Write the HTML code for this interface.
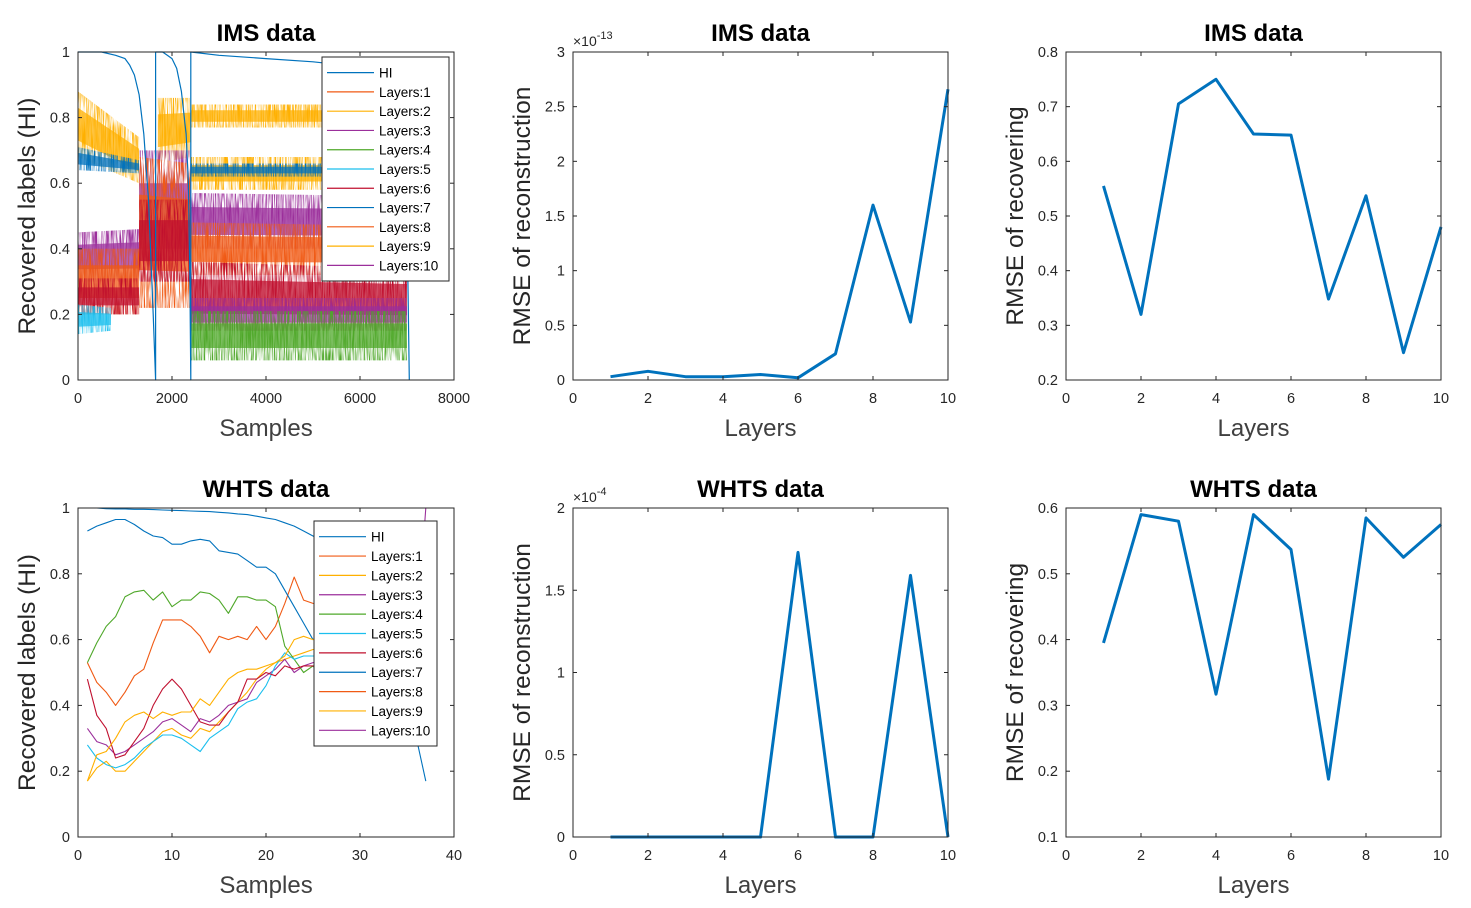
<!DOCTYPE html>
<html><head><meta charset="utf-8"><style>
body{margin:0;background:#fff;}
svg{display:block;font-family:"Liberation Sans",sans-serif;}
</style></head><body>
<svg id="svg" width="1471" height="908" viewBox="0 0 1471 908" xmlns="http://www.w3.org/2000/svg">
<defs>
<filter id="grain" x="0" y="0" width="1" height="1">
<feTurbulence type="fractalNoise" baseFrequency="0.9 0.04" numOctaves="2" seed="3" result="n"/>
<feColorMatrix in="n" type="matrix" values="0 0 0 0 0  0 0 0 0 0  0 0 0 0 0  0 0 0 3 -1.1" result="a"/>
<feComposite in="SourceGraphic" in2="a" operator="in"/>
</filter>
</defs>
</svg>
<script>
// ---- data ----
const layersX = [1,2,3,4,5,6,7,8,9,10];
const imsRecon = [0.03,0.08,0.03,0.03,0.05,0.02,0.24,1.6,0.53,2.66];
const imsRecover = [0.555,0.32,0.705,0.75,0.65,0.648,0.348,0.537,0.25,0.48];
const whtsRecon = [0,0,0,0,0,1.73,0,0,1.59,0];
const whtsRecover = [0.395,0.59,0.58,0.317,0.59,0.537,0.188,0.585,0.525,0.575];
// IMS noisy bands: [color, x0, x1, lowStart, highStart, lowEnd, highEnd]
const imsBands = [
 ['#ffb000',0,1300,0.68,0.88,0.60,0.74],
 ['#ffb000',1700,2400,0.66,0.86,0.68,0.86],
 ['#ffb000',2400,7000,0.77,0.84,0.77,0.84],
 ['#ffb000',2400,7000,0.58,0.68,0.58,0.68],
 ['#9b2f9b',0,1300,0.30,0.45,0.30,0.46],
 ['#9b2f9b',1300,2400,0.30,0.70,0.30,0.70],
 ['#9b2f9b',2400,7000,0.40,0.57,0.40,0.56],
 ['#f05a14',0,1300,0.20,0.40,0.20,0.40],
 ['#f05a14',1300,2400,0.22,0.68,0.22,0.66],
 ['#f05a14',2400,7000,0.32,0.48,0.32,0.47],
 ['#c0102f',0,1300,0.20,0.31,0.20,0.31],
 ['#c0102f',1300,2400,0.30,0.55,0.30,0.55],
 ['#c0102f',2400,7000,0.15,0.36,0.15,0.34],
 ['#9b2f9b',2400,7000,0.15,0.25,0.15,0.25],
 ['#4fa82a',2400,7000,0.06,0.21,0.06,0.21],
 ['#1bbfee',0,700,0.14,0.23,0.15,0.22],
 ['#0072bd',0,1300,0.64,0.71,0.63,0.67],
 ['#0072bd',2400,7000,0.62,0.66,0.62,0.66]
];
const imsHIx = [0,500,800,1000,1100,1200,1300,1400,1500,1600,1650,1651,1800,1900,2000,2100,2200,2300,2350,2380,2400,2401,3000,4000,5000,6000,6500,6900,7000,7050];
const imsHIy = [1,1,0.99,0.98,0.96,0.93,0.87,0.75,0.55,0.2,0,1,1,0.99,0.98,0.95,0.88,0.75,0.6,0.3,0,1,0.99,0.98,0.97,0.955,0.94,0.9,0.5,0];
const whtsSamples = [1,2,3,4,5,6,7,8,9,10,11,12,13,14,15,16,17,18,19,20,21,22,23,24,25,26,27,28,29,30,31,32,33,34,35,36,37];
const whtsHI = [1,1,0.998,0.997,0.997,0.996,0.996,0.995,0.994,0.993,0.992,0.991,0.99,0.989,0.987,0.985,0.982,0.98,0.975,0.97,0.965,0.955,0.945,0.93,0.915,0.9,0.88,0.86,0.84,0.82,0.8,0.78,0.76,0.74,0.72,0.7,0.68];
const whtsL1 = [0.53,0.47,0.44,0.40,0.44,0.49,0.51,0.59,0.66,0.66,0.66,0.64,0.61,0.56,0.61,0.60,0.61,0.60,0.64,0.60,0.64,0.71,0.79,0.72,0.71,0.70,0.68,0.66,0.64,0.62,0.60,0.58,0.57,0.56,0.55,0.54,0.53];
const whtsL2 = [0.17,0.21,0.23,0.20,0.20,0.23,0.26,0.29,0.32,0.33,0.31,0.30,0.33,0.32,0.35,0.38,0.41,0.44,0.48,0.51,0.53,0.54,0.55,0.56,0.57,0.57,0.57,0.57,0.56,0.56,0.55,0.55,0.55,0.54,0.54,0.54,0.54];
const whtsL3 = [0.33,0.29,0.28,0.25,0.26,0.28,0.30,0.32,0.35,0.36,0.34,0.32,0.36,0.35,0.37,0.40,0.41,0.42,0.47,0.49,0.51,0.54,0.50,0.52,0.53,0.53,0.53,0.53,0.53,0.53,0.53,0.53,0.53,0.54,0.55,0.60,1.0];
const whtsL4 = [0.53,0.59,0.64,0.67,0.73,0.745,0.75,0.72,0.745,0.70,0.72,0.72,0.745,0.74,0.72,0.68,0.73,0.73,0.72,0.72,0.70,0.58,0.54,0.50,0.52,0.48,0.50,0.50,0.50,0.51,0.51,0.51,0.51,0.51,0.51,0.51,0.51];
const whtsL5 = [0.28,0.24,0.22,0.21,0.22,0.24,0.27,0.29,0.31,0.31,0.30,0.28,0.26,0.30,0.32,0.34,0.39,0.41,0.42,0.46,0.52,0.56,0.54,0.55,0.55,0.55,0.55,0.55,0.55,0.55,0.55,0.55,0.55,0.55,0.55,0.55,0.55];
const whtsL6 = [0.48,0.37,0.33,0.24,0.25,0.29,0.33,0.40,0.45,0.48,0.45,0.40,0.35,0.34,0.34,0.38,0.41,0.48,0.48,0.50,0.49,0.52,0.51,0.52,0.52,0.52,0.52,0.52,0.52,0.52,0.52,0.52,0.52,0.52,0.52,0.52,0.52];
const whtsL7 = [0.93,0.945,0.955,0.965,0.965,0.95,0.93,0.915,0.91,0.89,0.89,0.9,0.905,0.9,0.87,0.865,0.86,0.84,0.82,0.82,0.8,0.75,0.7,0.65,0.6,0.62,0.6,0.58,0.56,0.54,0.52,0.5,0.48,0.45,0.4,0.3,0.17];
const whtsL9 = [0.17,0.25,0.26,0.30,0.35,0.37,0.38,0.36,0.38,0.37,0.38,0.38,0.42,0.40,0.44,0.48,0.50,0.51,0.51,0.52,0.53,0.55,0.60,0.61,0.60,0.60,0.60,0.60,0.60,0.60,0.60,0.60,0.60,0.60,0.60,0.60,0.60];
const legendLabels = ['HI','Layers:1','Layers:2','Layers:3','Layers:4','Layers:5','Layers:6','Layers:7','Layers:8','Layers:9','Layers:10'];
const legendColors = ['#0072bd','#f05a14','#ffb000','#9b2f9b','#4fa82a','#1bbfee','#c0102f','#0072bd','#f05a14','#ffb000','#9b2f9b'];

const svg = document.getElementById('svg');
const NS = 'http://www.w3.org/2000/svg';
function mk(tag, attrs, parent){const e=document.createElementNS(NS,tag);for(const k in attrs)e.setAttribute(k,attrs[k]);(parent||svg).appendChild(e);return e;}

function axes(name, x0,x1,y0,y1, xmin,xmax,ymin,ymax, xticks,yticks, xlab, ylab, title, exp){
  const g = mk('g',{});
  
  
  const sx = v=>x0+(v-xmin)/(xmax-xmin)*(x1-x0);
  const sy = v=>y1-(v-ymin)/(ymax-ymin)*(y1-y0);
  const inner = mk('g',{},g);
  const frame = () => {
    const f = mk('g',{},g);
    mk('rect',{x:x0,y:y0,width:x1-x0,height:y1-y0,fill:'none',stroke:'#262626','stroke-width':1},f);
    xticks.forEach(t=>{const x=sx(t);
      mk('line',{x1:x,x2:x,y1:y1,y2:y1-4,stroke:'#262626'},f);
      mk('line',{x1:x,x2:x,y1:y0,y2:y0+4,stroke:'#262626'},f);
      const tx=mk('text',{x:x,y:y1+23,'text-anchor':'middle','font-size':14.5,fill:'#262626'},f);tx.textContent=t;
      
      });
    yticks.forEach(t=>{const y=sy(t);
      mk('line',{x1:x0,x2:x0+4,y1:y,y2:y,stroke:'#262626'},f);
      mk('line',{x1:x1,x2:x1-4,y1:y,y2:y,stroke:'#262626'},f);
      const tx=mk('text',{x:x0-8,y:y+5,'text-anchor':'end','font-size':14.5,fill:'#262626'},f);tx.textContent=t;
      
      });
    const xl=mk('text',{x:(x0+x1)/2,y:y1+56,'text-anchor':'middle','font-size':24,fill:'#404040'},f);xl.textContent=xlab;
    
    
    const cx=x0-43, cy=(y0+y1)/2;
    const yl=mk('text',{x:cx,y:cy,'text-anchor':'middle','font-size':24.5,fill:'#262626',transform:`rotate(-90 ${cx} ${cy})`},f);yl.textContent=ylab;
    
    
    const tt=mk('text',{x:(x0+x1)/2,y:y0-11,'text-anchor':'middle','font-size':24,'font-weight':'bold',fill:'#000'},f);tt.textContent=title;
    
    
    if(exp){const et=mk('text',{x:x0,y:y0-6,'font-size':14,fill:'#262626'},f);
      et.innerHTML='×10<tspan dy="-7" font-size="11">'+exp+'</tspan>';
      
      }
  };
  return {g:inner,sx,sy,frame};
}
function line(ax, xs, ys, color, w, name){
  const d = xs.map((x,i)=>(i?'L':'M')+ax.sx(x).toFixed(1)+' '+ax.sy(ys[i]).toFixed(1)).join(' ');
  const p = mk('path',{d:d,fill:'none',stroke:color,'stroke-width':w,'stroke-linejoin':'round'},ax.g);
  
  
}
function legend(x,y,w,h){
  const g=mk('g',{});
  
  
  mk('rect',{x:x,y:y,width:w,height:h,fill:'#fff',stroke:'#262626'},g);
  const step=(h-12)/legendLabels.length;
  legendLabels.forEach((l,i)=>{const yy=y+6+step*(i+0.5);
    const e=mk('g',{},g);
    
    
    mk('line',{x1:x+5,x2:x+52,y1:yy,y2:yy,stroke:legendColors[i],'stroke-width':1.2},e);
    const t=mk('text',{x:x+57,y:yy+5,'font-size':13.5,fill:'#000'},e);t.textContent=l;});
}

// ---- IMS samples plot ----
const a1 = axes('ims-hi-plot',78,454,52,380,0,8000,0,1,[0,2000,4000,6000,8000],[0,0.2,0.4,0.6,0.8,1],'Samples','Recovered labels (HI)','IMS data');
const bandG = mk('g',{},a1.g);
imsBands.forEach(b=>{
  const [c,x0,x1,l0,h0,l1,h1]=b;
  const d=`M${a1.sx(x0)} ${a1.sy(h0)} L${a1.sx(x1)} ${a1.sy(h1)} L${a1.sx(x1)} ${a1.sy(l1)} L${a1.sx(x0)} ${a1.sy(l0)} Z`;
  const core=`M${a1.sx(x0)} ${a1.sy(h0*0.75+l0*0.25)} L${a1.sx(x1)} ${a1.sy(h1*0.75+l1*0.25)} L${a1.sx(x1)} ${a1.sy(l1*0.75+h1*0.25)} L${a1.sx(x0)} ${a1.sy(l0*0.75+h0*0.25)} Z`;
  const p=mk('path',{d:d,fill:c,filter:'url(#grain)'},bandG);
  
  
  const q=mk('path',{d:core,fill:c,'fill-opacity':0.75},bandG);
  
  
});
line(a1, imsHIx, imsHIy, '#0072bd', 1.2, 'hi-line');
a1.frame(); legend(322,57,127,224);

// ---- IMS recon ----
const a2 = axes('ims-reconstruction-plot',573,948,52,380,0,10,0,3,[0,2,4,6,8,10],[0,0.5,1,1.5,2,2.5,3],'Layers','RMSE of reconstruction','IMS data','-13');
line(a2, layersX, imsRecon, '#0072bd', 3, 'rmse-line');
a2.frame();
// ---- IMS recover ----
const a3 = axes('ims-recovering-plot',1066,1441,52,380,0,10,0.2,0.8,[0,2,4,6,8,10],[0.2,0.3,0.4,0.5,0.6,0.7,0.8],'Layers','RMSE of recovering','IMS data');
line(a3, layersX, imsRecover, '#0072bd', 3, 'rmse-line');
a3.frame();

// ---- WHTS samples ----
const a4 = axes('whts-hi-plot',78,454,508,837,0,40,0,1,[0,10,20,30,40],[0,0.2,0.4,0.6,0.8,1],'Samples','Recovered labels (HI)','WHTS data');
const whtsSeries=[[whtsHI,'#0072bd'],[whtsL1,'#f05a14'],[whtsL2,'#ffb000'],[whtsL3,'#9b2f9b'],[whtsL4,'#4fa82a'],[whtsL5,'#1bbfee'],[whtsL6,'#c0102f'],[whtsL7,'#0072bd'],[whtsL9,'#ffb000']];
whtsSeries.forEach(s=>line(a4, whtsSamples, s[0], s[1], 1.1, 'whts-series-line'));
a4.frame(); legend(314,521,123,225);

// ---- WHTS recon ----
const a5 = axes('whts-reconstruction-plot',573,948,508,837,0,10,0,2,[0,2,4,6,8,10],[0,0.5,1,1.5,2],'Layers','RMSE of reconstruction','WHTS data','-4');
line(a5, layersX, whtsRecon, '#0072bd', 3, 'rmse-line');
a5.frame();
// ---- WHTS recover ----
const a6 = axes('whts-recovering-plot',1066,1441,508,837,0,10,0.1,0.6,[0,2,4,6,8,10],[0.1,0.2,0.3,0.4,0.5,0.6],'Layers','RMSE of recovering','WHTS data');
line(a6, layersX, whtsRecover, '#0072bd', 3, 'rmse-line');
a6.frame();
</script>
</body></html>
